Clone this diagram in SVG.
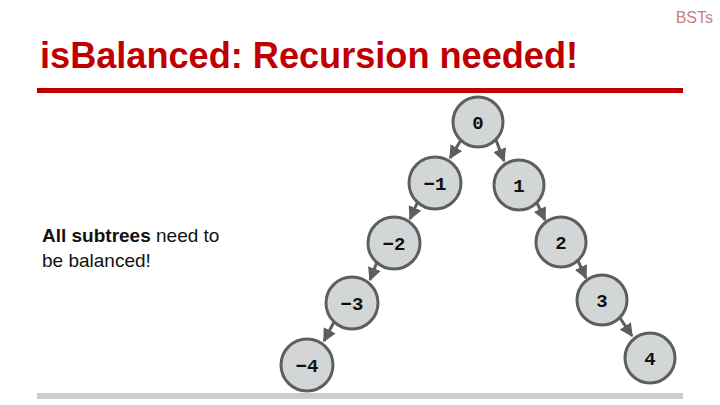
<svg xmlns="http://www.w3.org/2000/svg" width="720" height="405" viewBox="0 0 720 405">
<style>
.n circle{fill:#d2d6d6;stroke:#5e5e5e;stroke-width:3}
.n text{font-family:"Liberation Mono",monospace;font-weight:bold;font-size:19px;fill:#111;text-anchor:middle}
.e line{stroke:#5e5e5e;stroke-width:3;marker-end:url(#a)}
</style>
<defs><marker id="a" viewBox="0 0 10 10" refX="9" refY="5" markerWidth="4.5" markerHeight="4.5" orient="auto" markerUnits="strokeWidth"><path d="M0,0L10,5L0,10z" fill="#5e5e5e"/></marker></defs>
<rect width="720" height="405" fill="#fff"/>
<text x="713" y="23" text-anchor="end" font-family="Liberation Sans,sans-serif" font-size="16" fill="#c98080">BSTs</text>
<text x="40" y="68" font-family="Liberation Sans,sans-serif" font-weight="bold" font-size="36" fill="#c00000" textLength="538" lengthAdjust="spacingAndGlyphs">isBalanced: Recursion needed!</text>
<rect x="37" y="88" width="646" height="5" fill="#c00000"/>
<rect x="37" y="393" width="646" height="6" fill="#cccccc"/>
<text font-family="Liberation Sans,sans-serif" font-size="19" fill="#111"><tspan x="42" y="242"><tspan font-weight="bold">All subtrees</tspan> need to</tspan><tspan x="42" y="267">be balanced!</tspan></text>
<g class="e">
<line x1="461" y1="140" x2="450" y2="158"/>
<line x1="496" y1="140" x2="504" y2="161"/>
<line x1="418" y1="201" x2="410" y2="219"/>
<line x1="537" y1="203" x2="545" y2="220"/>
<line x1="377" y1="262" x2="370" y2="280"/>
<line x1="578" y1="261" x2="586" y2="278"/>
<line x1="334" y1="322" x2="324" y2="341"/>
<line x1="620" y1="318" x2="632" y2="336"/>
</g>
<g id="n0" class="n"><circle cx="478" cy="122" r="25"/><text x="478" y="129">0</text></g>
<g id="nm1" class="n"><circle cx="435" cy="183" r="26"/><text x="435" y="190">−1</text></g>
<g id="n1" class="n"><circle cx="519" cy="185" r="25"/><text x="519" y="192">1</text></g>
<g id="nm2" class="n"><circle cx="394" cy="243" r="26"/><text x="394" y="250">−2</text></g>
<g id="n2" class="n"><circle cx="561" cy="242" r="25"/><text x="561" y="249">2</text></g>
<g id="nm3" class="n"><circle cx="352" cy="303" r="26"/><text x="352" y="310">−3</text></g>
<g id="n3" class="n"><circle cx="602" cy="300" r="25"/><text x="602" y="307">3</text></g>
<g id="nm4" class="n"><circle cx="307" cy="365" r="26"/><text x="307" y="372">−4</text></g>
<g id="n4" class="n"><circle cx="650" cy="358" r="25"/><text x="650" y="365">4</text></g>
</svg>
